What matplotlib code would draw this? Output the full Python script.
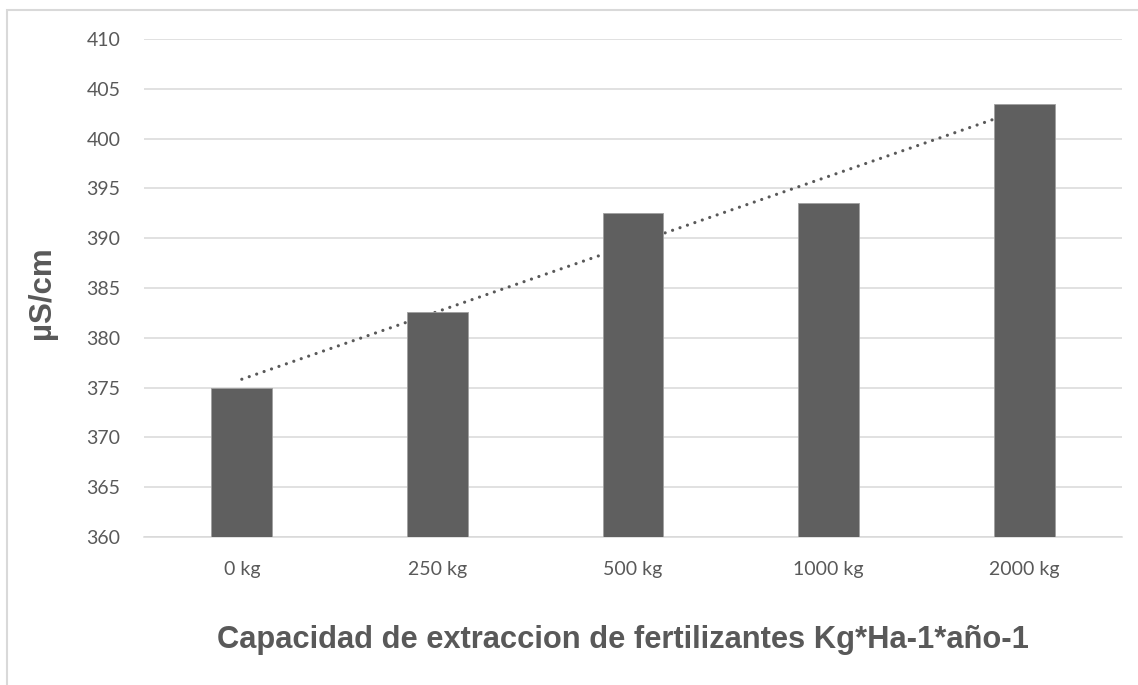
import numpy as np
import matplotlib
matplotlib.use("Agg")
import matplotlib.pyplot as plt
from matplotlib.patches import Rectangle

categories = ["0 kg", "250 kg", "500 kg", "1000 kg", "2000 kg"]
values = [375.0, 382.6, 392.5, 393.5, 403.5]
yticks = [360, 365, 370, 375, 380, 385, 390, 395, 400, 405, 410]

W, H = 1138, 685
fig = plt.figure(figsize=(W / 100, H / 100), dpi=100)
fig.patch.set_facecolor("white")

# outer chart frame (cropped at right/bottom)
fig.add_artist(Rectangle((6.5 / W, -0.1), 1.2, (H - 10) / H + 0.1,
                         transform=fig.transFigure, fill=False,
                         edgecolor="#D9D9D9", linewidth=1.5))

ax = fig.add_axes([144 / W, 1 - 537 / H, (1122 - 144) / W, (537 - 39) / H])
x = np.arange(len(categories))

ax.set_ylim(360, 410)
ax.set_xlim(-0.5, len(categories) - 0.5)
ax.set_yticks(yticks)
ax.yaxis.grid(True, color="#D9D9D9", linewidth=1.1, zorder=0)
ax.set_axisbelow(True)
for s in ["top", "right", "left"]:
    ax.spines[s].set_visible(False)
ax.spines["bottom"].set_color("#D9D9D9")
ax.spines["bottom"].set_linewidth(1.1)

# linear trendline (drawn beneath bars)
coef = np.polyfit(x, values, 1)
xt = np.array([x[0], x[-1]])
ax.plot(xt, np.polyval(coef, xt), color="#595959", linewidth=2.3,
        linestyle=(0, (0.01, 2.45)), dash_capstyle="round", zorder=2)

ax.bar(x, [v - 360 for v in values], bottom=360, width=0.31,
       color="#5F5F5F", edgecolor="#A0A0A0", linewidth=0.6, zorder=3)

ax.set_xticks(x)
ax.set_xticklabels(categories)
ax.tick_params(axis="both", length=0, colors="#595959", labelsize=14)
ax.tick_params(axis="y", pad=17)
ax.tick_params(axis="x", pad=17)
for lbl in ax.get_xticklabels() + ax.get_yticklabels():
    lbl.set_fontfamily("Lato")

fig.text(623 / W, 1 - 640 / H, "Capacidad de extraccion de fertilizantes Kg*Ha-1*año-1",
         ha="center", va="center", fontsize=22.2, fontweight="bold",
         color="#595959", family="Liberation Sans")
fig.text(42 / W, 1 - 293 / H, "µS/cm", ha="center", va="center", rotation=90,
         fontsize=22.5, fontweight="bold", color="#595959", family="Liberation Sans")

fig.savefig("out.png", dpi=100, facecolor="white")
